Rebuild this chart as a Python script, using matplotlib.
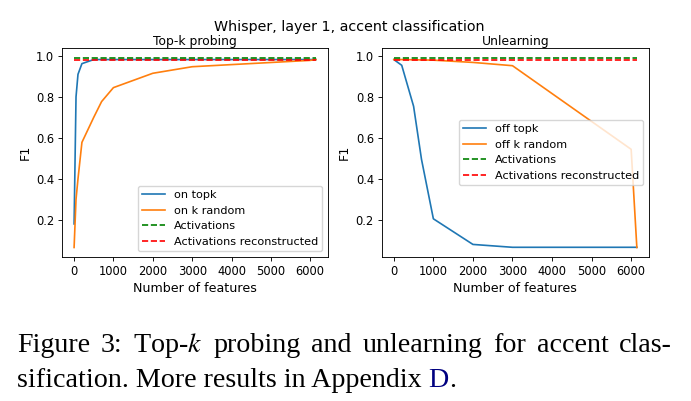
import matplotlib
matplotlib.use("Agg")
import matplotlib.pyplot as plt

# numero de features (k)
n_features = [1, 50, 100, 200, 500, 700, 1000, 2000, 3000, 6000, 6144]

# Top-k probing
on_topk = [0.18, 0.80, 0.91, 0.962, 0.982, 0.982, 0.982, 0.982, 0.982, 0.982, 0.982]
on_k_random = [0.065, 0.30, 0.40, 0.578, 0.70, 0.777, 0.845, 0.915, 0.947, 0.978, 0.982]

# Unlearning
off_topk = [0.982, 0.975, 0.968, 0.954, 0.754, 0.495, 0.205, 0.08, 0.066, 0.066, 0.066]
off_k_random = [0.982, 0.982, 0.982, 0.982, 0.981, 0.980, 0.979, 0.968, 0.952, 0.544, 0.065]

# baselines
activations = 0.992
activations_reconstructed = 0.982

s = 0.8
plt.rcParams['font.size'] = 8.3
plt.rcParams['axes.titlesize'] = 8.9
plt.rcParams['axes.labelsize'] = 9.1
plt.rcParams['legend.fontsize'] = 8.1
plt.rcParams['lines.linewidth'] = 1.5 * s
plt.rcParams['axes.linewidth'] = 0.8 * s
plt.rcParams['axes.titlepad'] = 2.5
plt.rcParams['axes.labelpad'] = 4 * s
for ax_name in ['xtick', 'ytick']:
    plt.rcParams[ax_name + '.major.width'] = 0.8 * s
    plt.rcParams[ax_name + '.major.size'] = 3.5 * s
    plt.rcParams[ax_name + '.major.pad'] = 3.5 * s
plt.rcParams['mathtext.fontset'] = 'stix'

fig = plt.figure(figsize=(6.91, 4.01), dpi=100)
W, H = 691, 401


def eixo(x0, x1, y0, y1):
    return fig.add_axes([x0 / W, 1 - y1 / H, (x1 - x0) / W, (y1 - y0) / H])


ax1 = eixo(62, 328, 48, 257)
ax2 = eixo(381.7, 649, 48, 257)

n = len(n_features)

ax1.plot(n_features, on_topk, label='on topk')
ax1.plot(n_features, on_k_random, label='on k random')
ax1.plot(n_features, [activations] * n, 'g--', label='Activations')
ax1.plot(n_features, [activations_reconstructed] * n, 'r--', label='Activations reconstructed')
ax1.set_title('Top-k probing')
ax1.set_xlabel('Number of features')
ax1.set_ylabel('F1')
ax1.legend(loc='lower right')

ax2.plot(n_features, off_topk, label='off topk')
ax2.plot(n_features, off_k_random, label='off k random')
ax2.plot(n_features, [activations] * n, 'g--', label='Activations')
ax2.plot(n_features, [activations_reconstructed] * n, 'r--', label='Activations reconstructed')
ax2.set_title('Unlearning')
ax2.set_xlabel('Number of features')
ax2.set_ylabel('F1')
ax2.legend(loc='center right')

for ax in (ax1, ax2):
    ax.set_xticks([0, 1000, 2000, 3000, 4000, 5000, 6000])
    ax.set_yticks([0.2, 0.4, 0.6, 0.8, 1.0])

fig.text(349 / W, 1 - 31 / H, 'Whisper, layer 1, accent classification',
         ha='center', va='baseline', fontsize=10.3)

# legenda da figura (estilo artigo), primeira linha justificada
cap = dict(family='Liberation Serif', fontsize=20.2, va='baseline', ha='left')
palavras = ['Figure', '3:', 'Top-$k$', 'probing', 'and', 'unlearning',
            'for', 'accent', 'clas-']
renderer = fig.canvas.get_renderer()
textos = [fig.text(0, 1 - 352 / H, p, **cap) for p in palavras]
larguras = [t.get_window_extent(renderer).width for t in textos]
x_ini, x_fim = 17, 672
espaco = (x_fim - x_ini - sum(larguras)) / (len(palavras) - 1)
x = x_ini
for t, w in zip(textos, larguras):
    t.set_x(x / W)
    x += w + espaco

t = fig.text(17 / W, 1 - 387 / H, 'sification. More results in Appendix ', **cap)
bb = t.get_window_extent(renderer)
t2 = fig.text(bb.x1 / W, 1 - 387 / H, 'D', color='#000080', **cap)
bb2 = t2.get_window_extent(renderer)
fig.text(bb2.x1 / W, 1 - 387 / H, '.', **cap)

fig.savefig('out.png', dpi=100)
